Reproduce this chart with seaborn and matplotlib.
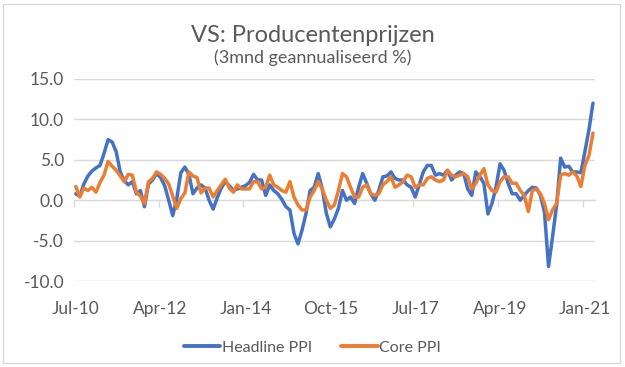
import pandas as pd
import seaborn as sns
import matplotlib.pyplot as plt
from matplotlib.patches import Rectangle

# maanden Jul-10 t/m Mar-21
maanden = pd.date_range('2010-07-01', periods=129, freq='MS')

headline = [
    0.8, 0.5, 2.0, 3.0, 3.6, 4.0, 4.3, 5.8, 7.5, 7.2,
    6.0, 3.5, 2.4, 1.9, 2.3, 0.8, 1.2, -0.8, 2.0, 2.5,
    3.3, 2.8, 1.8, 0.0, -1.9, 0.2, 3.4, 4.1, 3.2, 0.8,
    1.5, 1.9, 1.5, 0.0, -1.1, 0.3, 1.5, 2.3, 1.8, 1.2,
    1.4, 1.6, 1.8, 2.2, 3.2, 2.5, 2.5, 0.6, 1.9, 1.2,
    0.8, 0.1, -0.8, -1.2, -4.1, -5.4, -3.7, -1.6, 1.2, 1.6,
    3.3, 1.4, -1.6, -3.3, -2.3, -1.0, 1.2, 0.0, 0.4, -0.4,
    1.6, 3.3, 2.1, 0.8, 0.0, 1.2, 2.9, 3.0, 3.5, 2.7,
    2.5, 2.5, 1.9, 1.6, 0.4, 1.9, 3.5, 4.3, 4.3, 3.1,
    3.3, 3.1, 3.7, 2.5, 3.1, 3.5, 3.3, 1.4, 0.6, 3.5,
    2.9, 2.1, -1.7, -0.4, 1.6, 4.5, 3.7, 2.1, 0.8, 0.8,
    0.0, 0.6, 1.2, 1.6, 1.5, 0.6, -1.5, -8.2, -4.5, -0.6,
    5.2, 4.1, 4.2, 3.5, 3.5, 3.4, 6.0, 8.7, 12.0,
]

core = [
    1.7, 0.4, 1.5, 1.2, 1.6, 1.0, 2.2, 3.1, 4.8, 4.2,
    3.7, 3.0, 2.3, 3.2, 3.1, 1.0, 0.5, -0.4, 2.3, 2.7,
    3.5, 3.2, 2.7, 2.0, 0.5, -1.0, 0.2, 0.9, 3.5, 3.0,
    2.8, 0.9, 1.5, 1.5, 0.4, 1.2, 1.9, 2.6, 1.5, 1.0,
    1.9, 1.4, 1.4, 1.4, 2.3, 2.3, 1.4, 1.6, 3.1, 1.9,
    1.6, 1.2, 1.0, 2.3, 0.4, -0.6, -1.2, -1.2, 0.4, 1.2,
    2.3, 1.4, 0.0, -1.0, -0.6, 1.2, 3.3, 2.9, 1.6, 0.4,
    0.4, 1.6, 1.9, 0.8, 0.6, 0.8, 1.9, 2.3, 2.9, 1.6,
    1.9, 2.3, 3.1, 2.9, 1.6, 1.9, 1.9, 2.7, 2.9, 2.5,
    2.3, 2.5, 3.7, 3.1, 2.9, 3.1, 3.3, 2.9, 1.4, 2.1,
    3.1, 3.9, 1.9, 1.2, 1.0, 2.3, 2.9, 2.9, 2.1, 2.1,
    1.2, 0.6, -1.4, 1.2, 1.4, 0.8, -0.4, -2.4, -1.2, -0.4,
    3.1, 3.3, 3.1, 3.5, 3.0, 1.7, 4.3, 5.5, 8.3,
]

tick_labels = ['Jul-10', 'Apr-12', 'Jan-14', 'Oct-15', 'Jul-17', 'Apr-19', 'Jan-21']
reeksen = ['Headline PPI', 'Core PPI']
kleuren = ['#4472C4', '#ED7D31']

n = len(maanden)
df = pd.DataFrame({
    'pos': list(range(n)) * 2,
    'waarde': headline + core,
    'reeks': [reeksen[0]] * n + [reeksen[1]] * n,
})

sns.set_style('white')
plt.rcParams['font.family'] = ['Lato', 'DejaVu Sans']
grijs = '#595959'
lijn = '#d9d9d9'

fig = plt.figure(figsize=(6.25, 3.67), dpi=100)
ax = fig.add_axes([0.118, 0.234, 0.834, 0.551])

sns.lineplot(data=df, x='pos', y='waarde', hue='reeks', hue_order=reeksen,
             palette=kleuren, linewidth=2.5, legend=False, ax=ax)

ax.set_xlim(-0.5, n - 0.5)
ax.set_ylim(-10, 15)
ax.set_yticks([-10, -5, 0, 5, 10, 15])
ax.set_yticklabels([f'{v:.1f}' for v in [-10, -5, 0, 5, 10, 15]])
ax.grid(axis='y', color=lijn, linewidth=1)
ax.set_axisbelow(True)

# labels onder de grafiek, midden op de maand
label_pos = [maanden.get_loc(pd.to_datetime(l, format='%b-%y')) for l in tick_labels]
ax.set_xticks(label_pos)
ax.set_xticklabels(tick_labels)
ax.tick_params(axis='both', length=0, labelsize=12.5, labelcolor=grijs)
ax.tick_params(axis='x', pad=14)
ax.tick_params(axis='y', pad=7)
ax.set_xlabel('')
ax.set_ylabel('')
for s in ax.spines.values():
    s.set_visible(False)

# horizontale as bij 0 met streepjes tussen de categorieën
sec = ax.secondary_xaxis(10 / 25)
sec.set_alignment('bottom')
sec.set_xticks([p - 0.5 for p in label_pos])
sec.set_xticklabels([])
sec.tick_params(length=5, color=lijn, width=1)
sec.spines['bottom'].set_color(lijn)

fig.text(0.5, 0.902, 'VS: Producentenprijzen', ha='center', va='center',
         fontsize=17, color=grijs)
fig.text(0.5, 0.842, '(3mnd geannualiseerd %)', ha='center', va='center',
         fontsize=13, color=grijs)

handles = [plt.Line2D([], [], color=c, linewidth=2.8) for c in kleuren]
fig.legend(handles, reeksen, loc='center', bbox_to_anchor=(0.5, 0.052), ncol=2,
           frameon=False, fontsize=11.5, handlelength=2.3, handletextpad=0.1,
           columnspacing=1.8, labelcolor=grijs)

fig.patches.append(Rectangle((0.005, 0.012), 0.987, 0.976, transform=fig.transFigure,
                             fill=False, edgecolor=lijn, linewidth=1))

fig.savefig('out.png', dpi=100)
